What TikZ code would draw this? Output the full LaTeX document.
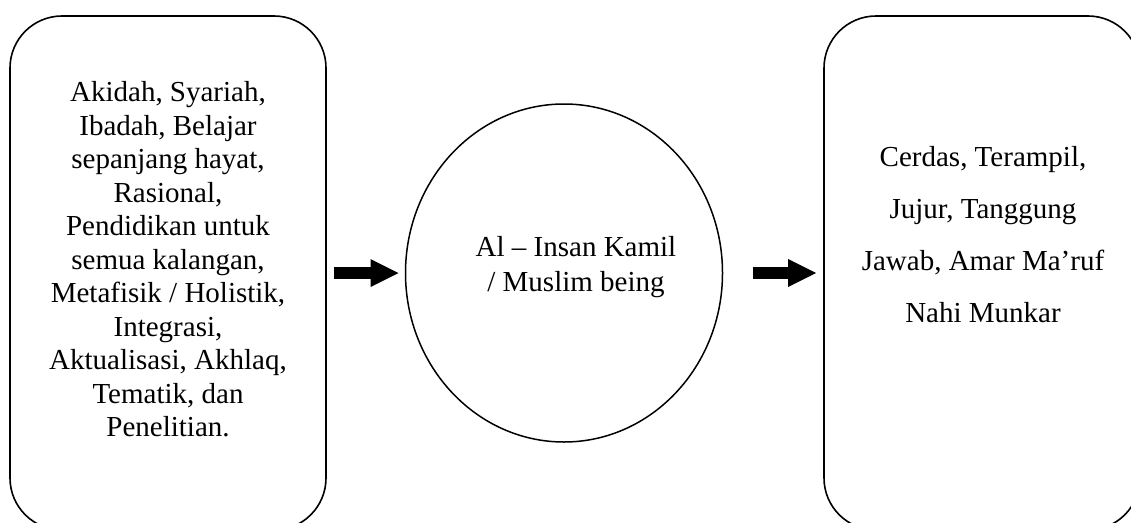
\documentclass[tikz,border=0pt]{standalone}
\usepackage{fontspec}
\setmainfont{Liberation Serif}
\usetikzlibrary{shapes.geometric,arrows.meta}

\tikzset{
  roundbox/.style={draw, line width=1.6pt, rounded corners=52pt,
    minimum width=316pt, minimum height=514pt, inner sep=0pt, outer sep=0pt},
  oval/.style={draw, ellipse, line width=1.5pt,
    minimum width=317pt, minimum height=338pt, inner sep=0pt, outer sep=0pt},
  boxtext/.style={align=center, inner sep=0pt},
  fatarrow/.style={line width=12pt,
    -{Triangle[length=28pt, width=28pt, line width=0pt]}}
}

\begin{document}
\begin{tikzpicture}[x=1pt, y=-1pt]
  \useasboundingbox (0,0) rectangle (1131,522);
  \clip (0,0) rectangle (1131,522);

  % outer shapes
  \node[roundbox] (left)  at (168,273) {};
  \node[oval]     (mid)   at (564,273) {};
  \node[roundbox] (right) at (982,273) {};

  % texts
  \node[boxtext, font=\fontsize{29pt}{33.5pt}\selectfont] (lefttext) at (168,259.5)
    {Akidah, Syariah,\\ Ibadah, Belajar\\ sepanjang hayat,\\ Rasional,\\
     Pendidikan untuk\\ semua kalangan,\\ Metafisik / Holistik,\\ Integrasi,\\
     Aktualisasi, Akhlaq,\\ Tematik, dan\\ Penelitian.};
  \node[boxtext, font=\fontsize{29pt}{35pt}\selectfont] (midtext) at (576,267.5)
    {Al -- Insan Kamil\\ / Muslim being};
  \node[boxtext, font=\fontsize{29pt}{52pt}\selectfont] (righttext) at (983,235)
    {Cerdas, Terampil,\\ Jujur, Tanggung\\ Jawab, Amar Ma’ruf\\ Nahi Munkar};

  % connectors
  \draw[fatarrow, shorten <=8pt, shorten >=7pt] (left.east) -- (mid.west);
  \draw[fatarrow, shorten <=30pt, shorten >=8pt] (mid.east) -- (right.west);
\end{tikzpicture}
\end{document}
